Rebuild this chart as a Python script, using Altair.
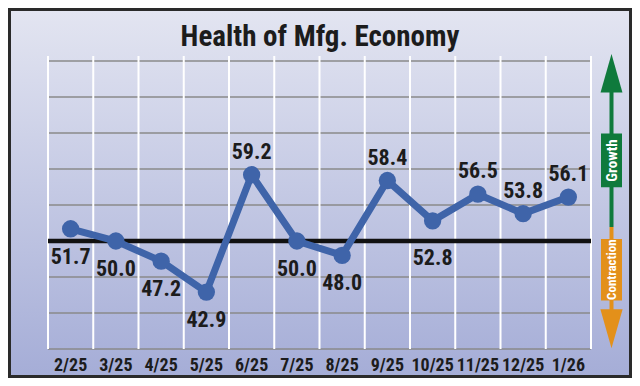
import altair as alt
import pandas as pd

# ---- data ----
months = ["2/25", "3/25", "4/25", "5/25", "6/25", "7/25", "8/25", "9/25",
          "10/25", "11/25", "12/25", "1/26"]
values = [51.7, 50.0, 47.2, 42.9, 59.2, 50.0, 48.0, 58.4, 52.8, 56.5, 53.8, 56.1]
label_side = ["below", "below", "below", "below", "above", "below", "below",
              "above", "below_far", "above", "above", "above"]
y_ticks = [35, 40, 45, 50, 55, 60, 65, 70, 75]
x_grid = list(range(13))
baseline_value = [50]
title_text = "Health of Mfg. Economy"
growth_label = "Growth"
contraction_label = "Contraction"

# ---- style ----
FONT = "Roboto Condensed, Roboto, Liberation Sans, sans-serif"
BLUE = "#3f64a9"
GREEN = "#0f7a3c"
ORANGE = "#e3901a"
TXT = "#1c1c1c"
W, H = 543, 288

df = pd.DataFrame({
    "idx": [i + 0.5 for i in range(len(months))],
    "month": months,
    "value": values,
    "side": label_side,
})
df["label"] = df["value"].map(lambda v: f"{v:.1f}")

xs = alt.X("idx:Q", scale=alt.Scale(domain=[0, 12], nice=False, zero=False), axis=None)
ys = alt.Y("value:Q", scale=alt.Scale(domain=[35, 75], nice=False, zero=False),
           axis=alt.Axis(values=y_ticks, grid=False, ticks=False, domain=False,
                         labelPadding=8, labelFont=FONT, labelFontSize=19,
                         labelFontWeight="bold", labelColor=TXT, title=None))

one = pd.DataFrame({"k": [0]})

bg = alt.Chart(one).mark_rect(
    fill=alt.Gradient(gradient="linear",
                      stops=[alt.GradientStop(color="#e3e5f1", offset=0),
                             alt.GradientStop(color="#a5add7", offset=1)],
                      x1=0, x2=0, y1=0, y2=1),
    stroke="#2a2a2a", strokeWidth=3,
).encode(x=alt.value(-38.5), x2=alt.value(582.5), y=alt.value(-51.5), y2=alt.value(315.5))

title = alt.Chart(pd.DataFrame({"t": [title_text]})).mark_text(
    font=FONT, fontSize=29, fontWeight="bold", color=TXT, align="center", baseline="middle"
).encode(x=alt.value(272), y=alt.value(-24), text="t:N")

hgrid = alt.Chart(pd.DataFrame({"value": y_ticks})).mark_rule(
    color="#8a8a8a", strokeWidth=1.5
).encode(y=ys, x=alt.value(0), x2=alt.value(W))

vgrid = alt.Chart(pd.DataFrame({"idx": x_grid})).mark_rule(
    color="#ffffff", strokeWidth=2
).encode(x=xs, y=alt.value(-5), y2=alt.value(H))

base50 = alt.Chart(pd.DataFrame({"value": baseline_value})).mark_rule(
    color="#111111", strokeWidth=4.5
).encode(y=ys, x=alt.value(0), x2=alt.value(W))

line = alt.Chart(df).mark_line(color=BLUE, strokeWidth=7).encode(x=xs, y=ys)
pts = alt.Chart(df).mark_circle(color=BLUE, size=300, opacity=1).encode(x=xs, y=ys)

def labels(side, dy):
    return alt.Chart(df).transform_filter(alt.datum.side == side).mark_text(
        font=FONT, fontSize=22, fontWeight="bold", color=TXT,
        align="center", baseline="middle", dy=dy
    ).encode(x=xs, y=ys, text="label:N")

lab_above = labels("above", -23)
lab_below = labels("below", 28)
lab_far = labels("below_far", 37)

xlab = alt.Chart(df).mark_text(
    font=FONT, fontSize=18, fontWeight="bold", color=TXT, align="center", baseline="middle"
).encode(x=xs, y=alt.value(H + 17), text="month:N")

AX = 563.5
g_head = alt.Chart(one).mark_point(
    shape="M0,-1L0.57,1L-0.57,1Z", size=1475, filled=True, color=GREEN, opacity=1, strokeWidth=0
).encode(x=alt.value(AX), y=alt.value(12.2))
g_line = alt.Chart(one).mark_rule(color=GREEN, strokeWidth=4).encode(
    x=alt.value(AX), y=alt.value(30), y2=alt.value(166))
g_box = alt.Chart(one).mark_rect(color=GREEN).encode(
    x=alt.value(553), x2=alt.value(574), y=alt.value(72.6), y2=alt.value(126.3))
g_txt = alt.Chart(pd.DataFrame({"t": [growth_label]})).mark_text(
    font=FONT, fontSize=15, fontWeight="bold", color="white", angle=270,
    align="center", baseline="middle"
).encode(x=alt.value(AX + 0.5), y=alt.value(99.5), text="t:N")

o_line = alt.Chart(one).mark_rule(color=ORANGE, strokeWidth=4).encode(
    x=alt.value(AX), y=alt.value(166), y2=alt.value(250))
o_box = alt.Chart(one).mark_rect(color=ORANGE).encode(
    x=alt.value(553), x2=alt.value(574), y=alt.value(178), y2=alt.value(239.5))
o_head = alt.Chart(one).mark_point(
    shape="M0,1L0.57,-1L-0.57,-1Z", size=1520, filled=True, color=ORANGE, opacity=1, strokeWidth=0
).encode(x=alt.value(AX), y=alt.value(267.7))
o_txt = alt.Chart(pd.DataFrame({"t": [contraction_label]})).mark_text(
    font=FONT, fontSize=13, fontWeight="bold", color="white", angle=270,
    align="center", baseline="middle"
).encode(x=alt.value(AX + 0.5), y=alt.value(208.7), text="t:N")

chart = alt.layer(
    bg, title, hgrid, vgrid, base50, line, pts, lab_above, lab_below, lab_far, xlab,
    g_line, g_head, g_box, g_txt, o_line, o_head, o_box, o_txt
).properties(
    width=W, height=H,
    padding={"left": 40, "top": 53, "right": 41, "bottom": 29},
    autosize=alt.AutoSizeParams(type="none"),
    background="#ffffff",
).configure_view(stroke=None)

chart.save("out.html", embed_options={"renderer": "svg", "actions": False})
